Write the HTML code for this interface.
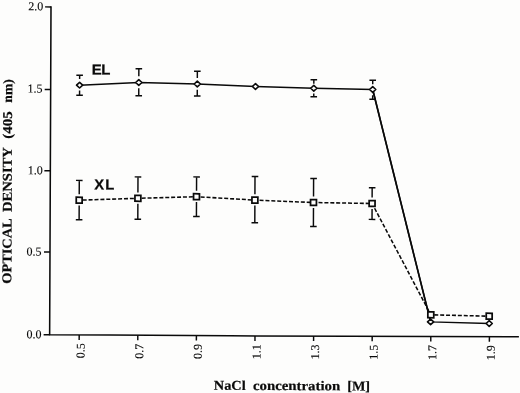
<!DOCTYPE html>
<html><head><meta charset="utf-8"><title>Figure</title>
<style>
html,body{margin:0;padding:0;background:#fdfdfc;}
svg{display:block;}
.l{fill:none;stroke:#0a0a0a;stroke-width:1.45;}
.m{fill:#fdfdfc;stroke:#0a0a0a;stroke-width:1.6;}
.t{font-family:"Liberation Serif","Times New Roman",serif;font-size:12px;fill:#0a0a0a;stroke:#0a0a0a;stroke-width:0.12px;}
.s{font-family:"Liberation Serif","Times New Roman",serif;font-size:13.5px;font-weight:bold;fill:#0a0a0a;stroke:#0a0a0a;stroke-width:0.2px;}
.b{font-family:"Liberation Sans",Arial,sans-serif;font-size:14.5px;font-weight:bold;fill:#0a0a0a;stroke:#0a0a0a;stroke-width:0.25px;}
</style></head>
<body>
<svg width="520" height="393" viewBox="0 0 520 393">
<rect width="520" height="393" fill="#fdfdfc"/>
<g transform="rotate(0.246 49.65 334.75)">
<path d="M49.59 6.20 L49.65 334.75 L110.00 334.76 L230.00 335.07 L350.00 334.89 L518.90 334.83" class="l" style="stroke-width:1.55" stroke-linejoin="miter"/>
<path d="M43.65 334.75H49.65" class="l"/>
<text x="41.62" y="338.43" text-anchor="end" class="t">0.0</text>
<path d="M43.65 252.00H49.65" class="l"/>
<text x="41.26" y="255.64" text-anchor="end" class="t">0.5</text>
<path d="M43.65 170.80H49.65" class="l"/>
<text x="42.01" y="174.33" text-anchor="end" class="t">1.0</text>
<path d="M43.65 89.50H49.65" class="l"/>
<text x="41.56" y="92.63" text-anchor="end" class="t">1.5</text>
<path d="M43.65 6.90H49.65" class="l"/>
<text x="41.90" y="10.23" text-anchor="end" class="t">2.0</text>
<path d="M79.20 334.76v5.0" class="l"/>
<text transform="translate(84.70 358.16) rotate(-90)" class="t">0.5</text>
<path d="M137.80 334.83v5.0" class="l"/>
<text transform="translate(143.30 358.23) rotate(-90)" class="t">0.7</text>
<path d="M196.40 334.99v5.0" class="l"/>
<text transform="translate(201.90 358.39) rotate(-90)" class="t">0.9</text>
<path d="M255.00 335.04v5.0" class="l"/>
<text transform="translate(260.50 358.44) rotate(-90)" class="t">1.1</text>
<path d="M313.60 334.94v5.0" class="l"/>
<text transform="translate(319.10 358.34) rotate(-90)" class="t">1.3</text>
<path d="M372.20 334.88v5.0" class="l"/>
<text transform="translate(377.70 358.28) rotate(-90)" class="t">1.5</text>
<path d="M430.80 334.86v5.0" class="l"/>
<text transform="translate(436.30 358.26) rotate(-90)" class="t">1.7</text>
<path d="M489.40 334.84v5.0" class="l"/>
<text transform="translate(494.90 358.24) rotate(-90)" class="t">1.9</text>
<path d="M78.53 75.17V78.97M78.53 90.37V95.07M75.23 75.17h6.6M75.23 95.07h6.6" class="l"/>
<path d="M137.71 68.42V75.82M137.71 87.92V95.42M134.41 68.42h6.6M134.41 95.42h6.6" class="l"/>
<path d="M196.22 70.67V77.37M196.22 89.17V95.37M192.92 70.67h6.6M192.92 95.37h6.6" class="l"/>
<path d="M312.74 78.67V82.62M312.74 92.32V95.67M309.44 78.67h6.6M309.44 95.67h6.6" class="l"/>
<path d="M371.64 78.91V82.91M371.64 93.81V97.91M368.34 78.91h6.6M368.34 97.91h6.6" class="l"/>
<path d="M78.53 85.07 L137.71 82.12 L196.22 83.37 L254.43 85.62 L312.74 87.12 L371.64 88.11 L430.54 320.26 L489.15 321.61" class="l" />
<path d="M371.64 88.11L430.54 320.26" class="l" style="stroke-width:1.65"/>
<path d="M78.53 82.27L81.63 85.07L78.53 87.87L75.43 85.07Z" class="m" stroke-linejoin="round"/>
<path d="M137.71 79.32L140.81 82.12L137.71 84.92L134.61 82.12Z" class="m" stroke-linejoin="round"/>
<path d="M196.22 80.57L199.32 83.37L196.22 86.17L193.12 83.37Z" class="m" stroke-linejoin="round"/>
<path d="M254.43 82.82L257.53 85.62L254.43 88.42L251.33 85.62Z" class="m" stroke-linejoin="round"/>
<path d="M312.74 84.32L315.84 87.12L312.74 89.92L309.64 87.12Z" class="m" stroke-linejoin="round"/>
<path d="M371.64 85.31L374.74 88.11L371.64 90.91L368.54 88.11Z" class="m" stroke-linejoin="round"/>
<path d="M430.54 317.46L433.64 320.26L430.54 323.06L427.44 320.26Z" class="m" stroke-linejoin="round"/>
<path d="M489.15 318.81L492.25 321.61L489.15 324.41L486.05 321.61Z" class="m" stroke-linejoin="round"/>
<path d="M78.62 180.27V194.17M78.62 205.47V219.67M75.32 180.27h6.6M75.32 219.67h6.6" class="l"/>
<path d="M137.31 176.52V192.02M137.31 203.32V218.82M134.01 176.52h6.6M134.01 218.82h6.6" class="l"/>
<path d="M195.91 176.27V190.17M195.91 201.47V215.87M192.61 176.27h6.6M192.61 215.87h6.6" class="l"/>
<path d="M254.32 175.62V193.32M254.32 204.62V221.82M251.02 175.62h6.6M251.02 221.82h6.6" class="l"/>
<path d="M312.93 177.37V195.47M312.93 206.77V225.37M309.63 177.37h6.6M309.63 225.37h6.6" class="l"/>
<path d="M371.53 186.31V196.21M371.53 207.51V218.01M368.23 186.31h6.6M368.23 218.01h6.6" class="l"/>
<path d="M78.62 200.07 L137.31 197.92 L195.91 196.07 L254.32 199.22 L312.93 201.37 L371.53 202.11 L430.71 313.16 L489.12 314.31" class="l" stroke-dasharray="4 1.9" stroke-dashoffset="2.4" style="stroke-width:1.55"/>
<rect x="75.67" y="197.12" width="5.90" height="5.90" class="m" style="stroke-width:1.75"/>
<rect x="134.36" y="194.97" width="5.90" height="5.90" class="m" style="stroke-width:1.75"/>
<rect x="192.96" y="193.12" width="5.90" height="5.90" class="m" style="stroke-width:1.75"/>
<rect x="251.37" y="196.27" width="5.90" height="5.90" class="m" style="stroke-width:1.75"/>
<rect x="309.98" y="198.42" width="5.90" height="5.90" class="m" style="stroke-width:1.75"/>
<rect x="368.58" y="199.16" width="5.90" height="5.90" class="m" style="stroke-width:1.75"/>
<rect x="427.76" y="310.21" width="5.90" height="5.90" class="m" style="stroke-width:1.75"/>
<rect x="486.17" y="311.36" width="5.90" height="5.90" class="m" style="stroke-width:1.75"/>
<text transform="translate(90.63 74.32) scale(1.03 1)" x="0.00 9.32" y="0" class="b">EL</text>
<text transform="translate(93.67 189.21) scale(1.02 1)" x="0.00 10.78" y="0" class="b">XL</text>
<text transform="translate(11.1 283.8) rotate(-90)" class="s" textLength="65.20" lengthAdjust="spacingAndGlyphs">OPTICAL</text>
<text transform="translate(11.1 212.2) rotate(-90)" class="s" textLength="64.90" lengthAdjust="spacingAndGlyphs">DENSITY</text>
<text transform="translate(11.1 139.0) rotate(-90)" class="s" textLength="27.50" lengthAdjust="spacingAndGlyphs">(405</text>
<text transform="translate(11.1 102.8) rotate(-90)" class="s" textLength="23.30" lengthAdjust="spacingAndGlyphs">nm)</text>
<text x="214.0" y="389.1" class="s" textLength="31.90" lengthAdjust="spacingAndGlyphs">NaCl</text>
<text x="253.2" y="389.1" class="s" textLength="87.20" lengthAdjust="spacingAndGlyphs">concentration</text>
<text x="347.4" y="389.1" class="s" textLength="22.90" lengthAdjust="spacingAndGlyphs">[M]</text>
</g>
</svg>
</body></html>
